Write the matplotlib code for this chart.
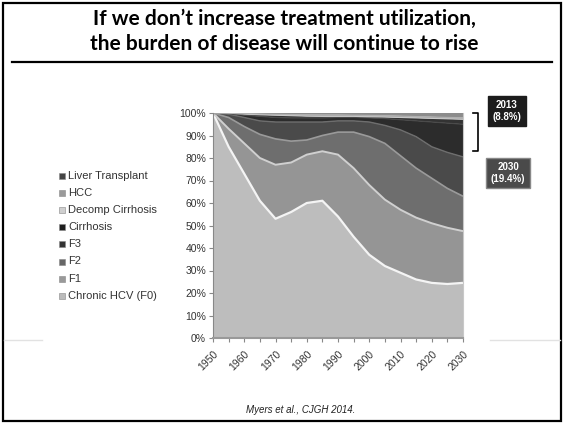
import matplotlib
matplotlib.use("Agg")
import matplotlib.pyplot as plt
import numpy as np
from matplotlib.patches import Rectangle
from matplotlib.lines import Line2D

# ---------------- data (percent share of HCV population) ----------------
years = list(range(1950, 2031, 5))
chronic_f0 = [100, 85, 73, 61, 53, 56, 60, 61, 54, 45, 37, 32, 29, 26, 24.5, 24, 24.5]
f1 = [0, 8, 13.5, 19, 24, 22, 21.5, 22, 27.5, 30.5, 31, 29.5, 28, 27.5, 26.5, 25, 23]
f2 = [0, 5, 7.5, 10.5, 11.5, 9.5, 6.5, 7, 10, 16, 21.5, 25, 24, 22, 20, 17.5, 15.5]
f3 = [0, 1.5, 4, 6, 7.5, 8.5, 8, 6, 5, 5, 6.5, 8, 11.5, 14, 14, 16, 17.5]
cirrhosis = [0, 0.3, 1, 2, 2, 1.8, 1.8, 1.8, 1.5, 1.5, 1.8, 3, 4.5, 7, 11, 13, 14.5]
decomp = [0, 0.1, 0.5, 0.7, 1, 1, 0.8, 0.7, 0.5, 0.5, 0.5, 0.7, 1, 1.3, 1.6, 1.9, 2.2]
hcc = [0, 0.1, 0.3, 0.4, 0.5, 0.6, 0.7, 0.7, 0.7, 0.6, 0.7, 0.7, 0.7, 0.7, 0.7, 0.7, 0.8]
liver_tx = [0, 0, 0.2, 0.4, 0.5, 0.6, 0.7, 0.8, 0.8, 0.9, 1, 1.1, 1.3, 1.5, 1.7, 1.9, 2.0]

legend_labels = ["Liver Transplant", "HCC", "Decomp Cirrhosis", "Cirrhosis",
                 "F3", "F2", "F1", "Chronic HCV (F0)"]
x_tick_labels = [str(y) for y in range(1950, 2031, 10)]
y_tick_values = list(range(0, 101, 10))

title_lines = ["If we don\u2019t increase treatment utilization,",
               "the burden of disease will continue to rise"]
box_2013 = "2013\n(8.8%)"
box_2030 = "2030\n(19.4%)"
citation = "Myers et al., CJGH 2014."

# ---------------- styling ----------------
W, H = 564, 424
fig = plt.figure(figsize=(W / 100, H / 100), dpi=100)
fig.patch.set_facecolor("white")

def fx(px):
    return px / W

def fy(py):
    return 1 - py / H

# outer frame
fig.add_artist(Rectangle((fx(3), fy(421)), fx(558), (418) / H, transform=fig.transFigure,
                         fill=False, edgecolor="black", linewidth=1.6))

# title
fig.text(fx(284), fy(19), title_lines[0], ha="center", va="center",
         fontsize=15, fontweight="bold", family="Lato", color="black")
fig.text(fx(284), fy(44), title_lines[1], ha="center", va="center",
         fontsize=15, fontweight="bold", family="Lato", color="black")
fig.add_artist(Line2D([fx(12), fx(552)], [fy(62), fy(62)], transform=fig.transFigure,
                      color="black", linewidth=1.6))

# faint horizontal guide lines at the edges
fig.add_artist(Line2D([fx(4), fx(42)], [fy(340), fy(340)], transform=fig.transFigure,
                      color="#e2e2e2", linewidth=1.0))
fig.add_artist(Line2D([fx(490), fx(560)], [fy(340), fy(340)], transform=fig.transFigure,
                      color="#e2e2e2", linewidth=1.0))

# main axes
ax = fig.add_axes([fx(213), fy(338), fx(463) - fx(213), (338 - 113) / H])
layers = [chronic_f0, f1, f2, f3, cirrhosis, decomp, hcc, liver_tx]
fill_colors = ["#bdbdbd", "#959595", "#6e6e6e", "#4a4a4a",
               "#2c2c2c", "#333333", "#a8a8a8", "#8c8c8c"]
ax.stackplot(years, layers, colors=fill_colors, linewidth=0)

cum = np.cumsum(np.array(layers, dtype=float), axis=0)
edge_colors = ["#f4f4f4", "#d0d0d0", "#9a9a9a", "#6e6e6e",
               "#4a4a4a", "#c8c8c8", "#b0b0b0"]
edge_widths = [1.6, 1.4, 1.2, 1.0, 0.8, 0.8, 0.6]
for top, c, lw in zip(cum[:-1], edge_colors, edge_widths):
    ax.plot(years, top, color=c, linewidth=lw, solid_capstyle="butt",
            solid_joinstyle="round")

ax.set_xlim(1950, 2030)
ax.set_ylim(0, 100)
ax.set_xticks(list(range(1950, 2031, 10)))
ax.set_xticklabels(x_tick_labels, rotation=45, ha="right", va="top",
                   rotation_mode="anchor", fontsize=7.5, family="Liberation Sans",
                   color="#333333")
ax.set_xticks(list(range(1955, 2030, 10)), minor=True)
ax.set_yticks(y_tick_values)
ax.set_yticklabels([f"{v}%" for v in y_tick_values], fontsize=7.5,
                   family="Liberation Sans", color="#333333")
ax.tick_params(axis="both", which="both", direction="out", length=3,
               color="#888888", width=0.8)
ax.tick_params(axis="x", which="major", pad=5)
ax.tick_params(axis="y", pad=2)
ax.spines["top"].set_visible(False)
ax.spines["right"].set_color("#c8c8c8")
ax.spines["left"].set_color("#888888")
ax.spines["bottom"].set_color("#999999")
ax.spines["bottom"].set_linewidth(1.5)

# legend (manual)
legend_colors = ["#444444", "#9a9a9a", "#cfcfcf", "#1e1e1e",
                 "#333333", "#666666", "#999999", "#bbbbbb"]
for i, (lab, col) in enumerate(zip(legend_labels, legend_colors)):
    yy = 176 + i * 17.1
    fig.add_artist(Rectangle((fx(59), fy(yy + 3)), fx(6), 6 / H, transform=fig.transFigure,
                             facecolor=col, edgecolor="#888888", linewidth=0.4))
    fig.text(fx(68), fy(yy), lab, ha="left", va="center", fontsize=8,
             family="Liberation Sans", color="#333333")

# annotation boxes
fig.text(fx(507), fy(111), box_2013, ha="center", va="center", fontsize=7,
         fontweight="bold", family="Liberation Sans", color="white", linespacing=1.2,
         bbox=dict(boxstyle="square,pad=0.45", facecolor="#1c1c1c", edgecolor="#1c1c1c"))
fig.text(fx(508), fy(173), box_2030, ha="center", va="center", fontsize=7,
         fontweight="bold", family="Liberation Sans", color="white", linespacing=1.2,
         bbox=dict(boxstyle="square,pad=0.45", facecolor="#4a4a4a", edgecolor="#888888"))

# bracket
fig.add_artist(Line2D([fx(473), fx(478), fx(478), fx(473)],
                      [fy(113), fy(113), fy(151), fy(151)],
                      transform=fig.transFigure, color="black", linewidth=1.2))

# citation
fig.text(fx(301), fy(410), citation, ha="center", va="center", fontsize=7,
         style="italic", family="Liberation Sans", color="#222222")

fig.savefig("out.png", dpi=100)
